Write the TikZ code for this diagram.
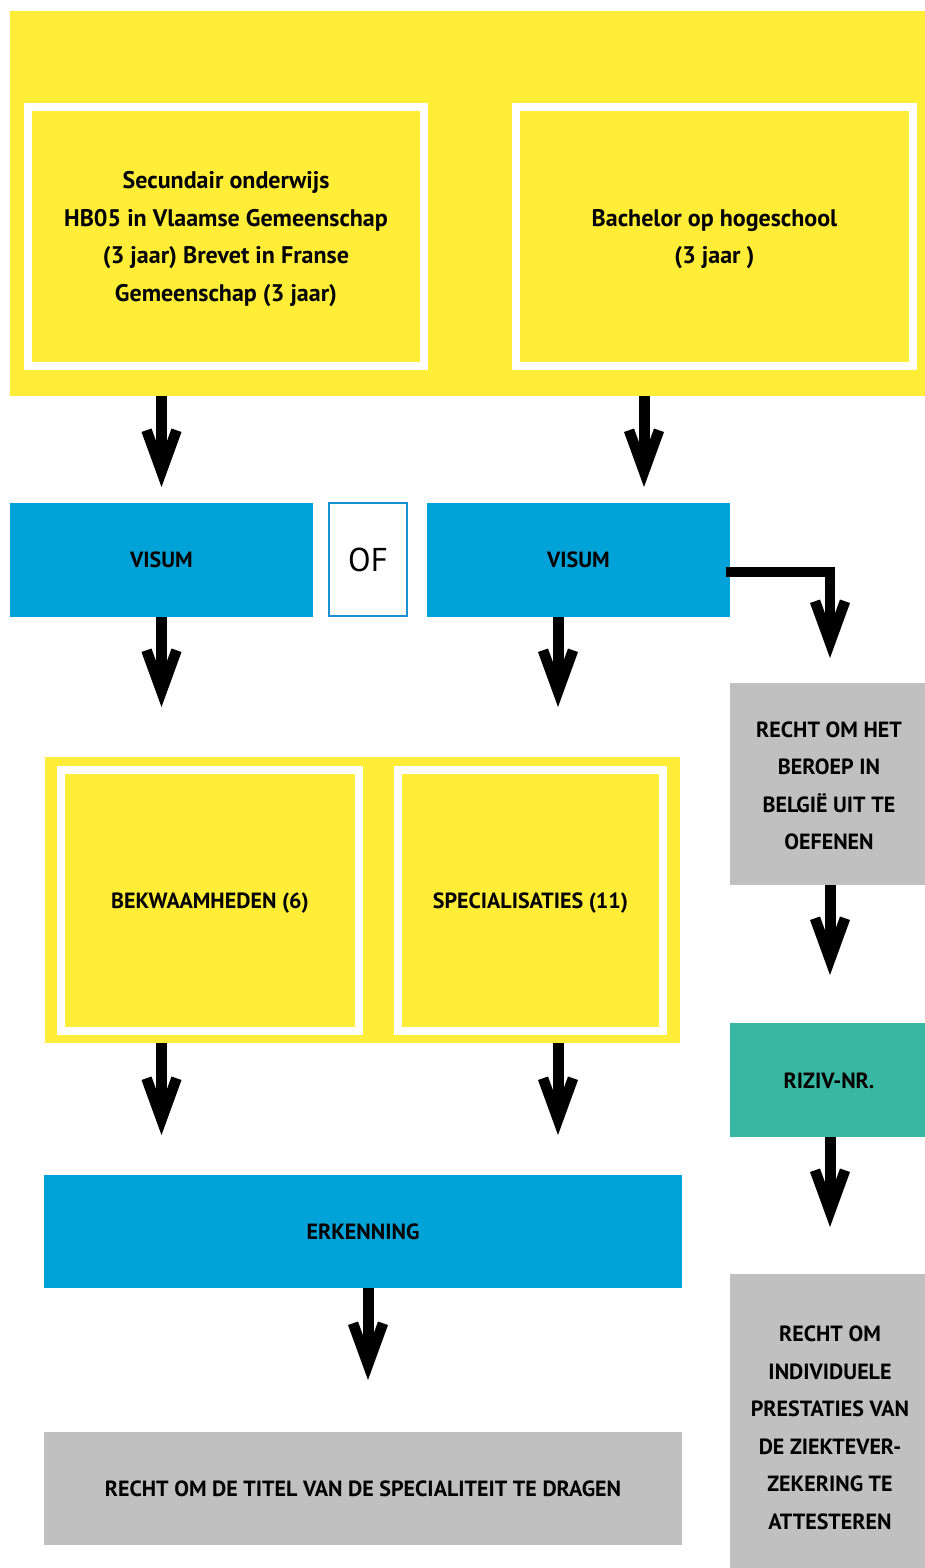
\documentclass[tikz,border=0pt]{standalone}
\usepackage{fontspec}
\setmainfont{PT Sans}
\usetikzlibrary{calc}
\definecolor{ylw}{HTML}{FFED38}
\definecolor{blu}{HTML}{00A3D7}
\definecolor{ofblu}{HTML}{1893D2}
\definecolor{grn}{HTML}{38B8A2}
\definecolor{gry}{HTML}{C0C0C0}
\newcommand\lblfont{\fontsize{22}{37.5}\selectfont\bfseries}
\newcommand\mixfont{\fontsize{24}{37.5}\selectfont\bfseries}
\pgfdeclarearrow{
  name = Chev,
  setup code = {
    \pgfarrowssettipend{0pt}
    \pgfarrowssetlineend{-26pt}
    \pgfarrowssetbackend{-58.5pt}
    \pgfarrowssetvisualbackend{-26pt}
    \pgfarrowsupperhullpoint{-55pt}{20pt}
    \pgfarrowsupperhullpoint{-58.5pt}{10pt}
    \pgfarrowsupperhullpoint{0pt}{0pt}
  },
  drawing code = {
    \pgfpathmoveto{\pgfqpoint{0pt}{0pt}}
    \pgfpathlineto{\pgfqpoint{-55pt}{20pt}}
    \pgfpathlineto{\pgfqpoint{-58.5pt}{10pt}}
    \pgfpathlineto{\pgfqpoint{-31pt}{0pt}}
    \pgfpathlineto{\pgfqpoint{-58.5pt}{-10pt}}
    \pgfpathlineto{\pgfqpoint{-55pt}{-20pt}}
    \pgfpathclose
    \pgfusepathqfill
  }
}
\tikzset{
  box/.style={rectangle, inner sep=0pt, outer sep=0pt, font=\lblfont, align=center, text=black},
  ybox/.style={box, fill=ylw},
  framebox/.style={box, fill=ylw, draw=white, line width=8pt},
  bbox/.style={box, fill=blu},
  gbox/.style={box, fill=gry},
  grbox/.style={box, fill=grn},
  conn/.style={draw=black, line width=11pt, -{Chev}, line join=miter},
}
\begin{document}
\begin{tikzpicture}[x=1pt, y=-1pt]
\useasboundingbox[fill=white] (0,0) rectangle (925,1568);
% top block
\node[ybox, minimum width=915pt, minimum height=385pt] (top) at (467.5,203.5) {};
\node[framebox, minimum width=396pt, minimum height=259pt] (sec) at (226,236.5) {};
\node[box, font=\mixfont] (sect) at (226,239)
  {Secundair onderwijs\\HB05 in Vlaamse Gemeenschap\\(3 jaar) Brevet in Franse\\Gemeenschap (3 jaar)};
\node[framebox, minimum width=397pt, minimum height=259pt] (bach) at (714.5,236.5) {};
\node[box, font=\mixfont] (bacht) at (714.5,239)
  {Bachelor op hogeschool\\(3 jaar )};
% visum row
\node[bbox, minimum width=303pt, minimum height=114pt] (visL) at (161.5,560) {VISUM};
\node[box, draw=ofblu, line width=2pt, fill=white, minimum width=78pt, minimum height=113pt,
      font=\fontsize{33}{34}\selectfont] (of) at (368,559.5) {OF};
\node[bbox, minimum width=303pt, minimum height=114pt] (visR) at (578.5,560) {VISUM};
% middle block
\node[ybox, minimum width=635pt, minimum height=286pt] (mid) at (362.5,900) {};
\node[framebox, minimum width=298pt, minimum height=261pt] (bekw) at (210,900.5) {};
\node[box] (bekwt) at (210,903) {BEKWAAMHEDEN (6)};
\node[framebox, minimum width=265pt, minimum height=261pt] (spec) at (530.5,900.5) {};
\node[box] (spect) at (530.5,903) {SPECIALISATIES (11)};
% erkenning + title
\node[bbox, minimum width=638pt, minimum height=113pt] (erk) at (363,1231.5) {ERKENNING};
\node[gbox, minimum width=638pt, minimum height=113pt] (titel) at (363,1488.5)
  {RECHT OM DE TITEL VAN DE SPECIALITEIT TE DRAGEN};
% right column
\node[gbox, minimum width=195pt, minimum height=202pt] (rg1) at (827.5,784) {};
\node[box] (rg1t) at (829,786)
  {RECHT OM HET\\BEROEP IN\\BELGIË UIT TE\\OEFENEN};
\node[grbox, minimum width=195pt, minimum height=114pt] (riz) at (827.5,1080) {};
\node[box] (rizt) at (829,1081) {RIZIV-NR.};
\node[gbox, minimum width=195pt, minimum height=294pt] (rg2) at (827.5,1421) {};
\node[box] (rg2t) at (830,1428)
  {RECHT OM\\INDIVIDUELE\\PRESTATIES VAN\\DE ZIEKTEVER-\\ZEKERING TE\\ATTESTEREN};
% arrow x positions
\coordinate (xR) at (644,0);
\coordinate (xM) at (558,0);
\coordinate (xE) at (368,0);
\coordinate (xC) at (830,0);
% connectors
\draw[conn, shorten >=16pt] (top.south -| visL.center) -- (visL.north);
\draw[conn, shorten >=16pt] (top.south -| xR) -- (visR.north -| xR);
\draw[conn, shorten >=50pt] (visL.south) -- (mid.north -| visL.center);
\draw[conn, shorten >=50pt] (visR.south -| xM) -- (mid.north -| xM);
\draw[conn, shorten >=40pt] (mid.south -| visL.center) -- (erk.north -| visL.center);
\draw[conn, shorten >=40pt] (mid.south -| xM) -- (erk.north -| xM);
\draw[conn, shorten >=52pt] (erk.south -| xE) -- (titel.north -| xE);
\draw[conn, line width=10pt, shorten >=25pt] ($(visR.east)+(-4,12)$) -| (rg1.north -| xC);
\draw[conn, shorten >=48pt] (rg1.south -| xC) -- (riz.north -| xC);
\draw[conn, shorten >=47pt] (riz.south -| xC) -- (rg2.north -| xC);
\end{tikzpicture}
\end{document}
